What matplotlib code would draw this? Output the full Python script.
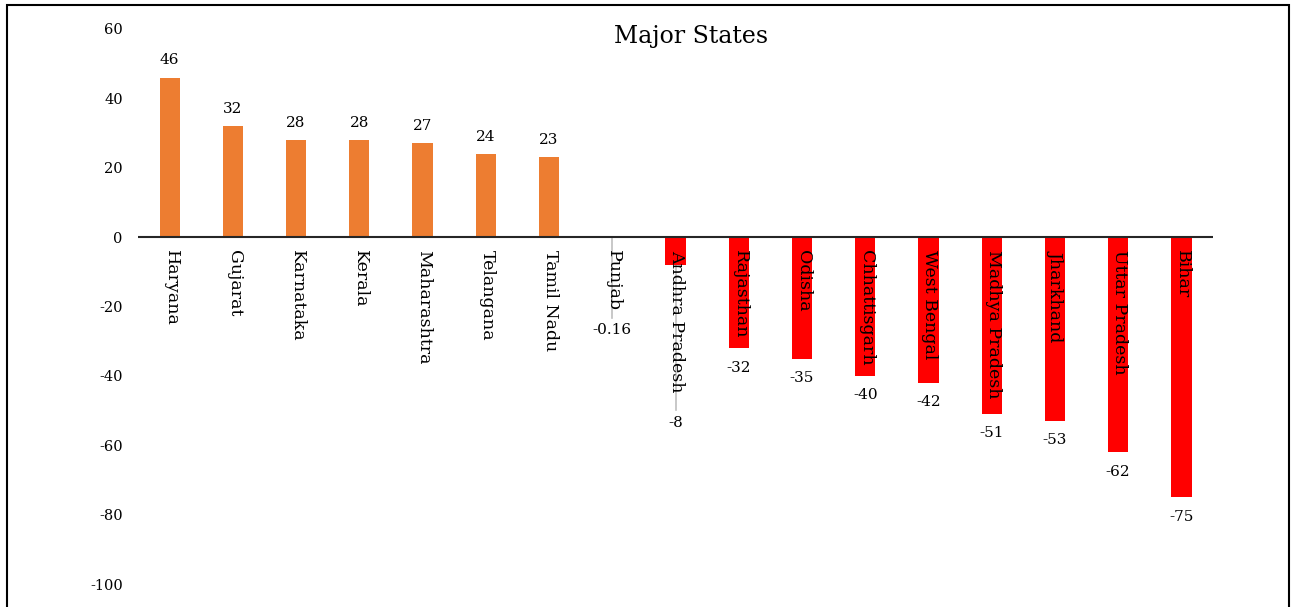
import matplotlib.pyplot as plt
import matplotlib.patches as patches
import numpy as np

states = ['Haryana', 'Gujarat', 'Karnataka', 'Kerala', 'Maharashtra', 'Telangana',
          'Tamil Nadu', 'Punjab', 'Andhra Pradesh', 'Rajasthan', 'Odisha',
          'Chhattisgarh', 'West Bengal', 'Madhya Pradesh', 'Jharkhand',
          'Uttar Pradesh', 'Bihar']
values = [46, 32, 28, 28, 27, 24, 23, -0.16, -8, -32, -35, -40, -42, -51, -53, -62, -75]
value_labels = ['46', '32', '28', '28', '27', '24', '23', '-0.16', '-8', '-32', '-35',
                '-40', '-42', '-51', '-53', '-62', '-75']
# labels moved down past the long state names, with leader lines
moved_labels = {'Punjab': (-26.8, -23.3), 'Andhra Pradesh': (-53.6, -49.9)}

plt.rcParams['font.family'] = ['DejaVu Serif']
plt.rcParams['axes.unicode_minus'] = False

fig = plt.figure(figsize=(12.93, 6.07), dpi=100)
ax = fig.add_axes([138 / 1293, 1 - 584 / 607, (1213 - 138) / 1293, (584 - 29) / 607])

x = np.arange(len(states))
colors = ['#ED7D31' if v > 0 else '#FF0000' for v in values]
ax.bar(x, values, width=0.32, color=colors, zorder=2)

ax.set_xlim(-0.5, len(states) - 0.5)
ax.set_ylim(-100, 60)
ax.set_yticks(range(-100, 61, 20))
ax.tick_params(axis='y', length=0, labelsize=10.5, pad=11)
ax.set_xticks([])
for s in ax.spines.values():
    s.set_visible(False)
ax.axhline(0, color='#262626', lw=1.5, zorder=3)

for i, (name, v, lab) in enumerate(zip(states, values, value_labels)):
    ax.annotate(name, (i, 0), xytext=(1, -9), textcoords='offset points',
                rotation=270, ha='center', va='top', fontsize=12.5, zorder=4)
    if name in moved_labels:
        ly, line_end = moved_labels[name]
        ax.plot([i, i], [0, line_end], color='#BFBFBF', lw=1.2, zorder=1)
        ax.text(i, ly, lab, ha='center', va='center', fontsize=11)
    elif v > 0:
        ax.text(i, v + 5, lab, ha='center', va='center', fontsize=11)
    else:
        ax.text(i, v - 5.6, lab, ha='center', va='center', fontsize=11)

fig.text(691 / 1293, 1 - 37 / 607, 'Major States', fontsize=17, ha='center', va='center')

# outer chart frame (bottom edge cut off)
fig.patches.append(patches.Rectangle((7 / 1293, -0.05), (1289 - 7) / 1293, 1.05 - 5 / 607,
                                     transform=fig.transFigure, fill=False,
                                     edgecolor='black', lw=1.5))

fig.savefig('out.png', dpi=100)
